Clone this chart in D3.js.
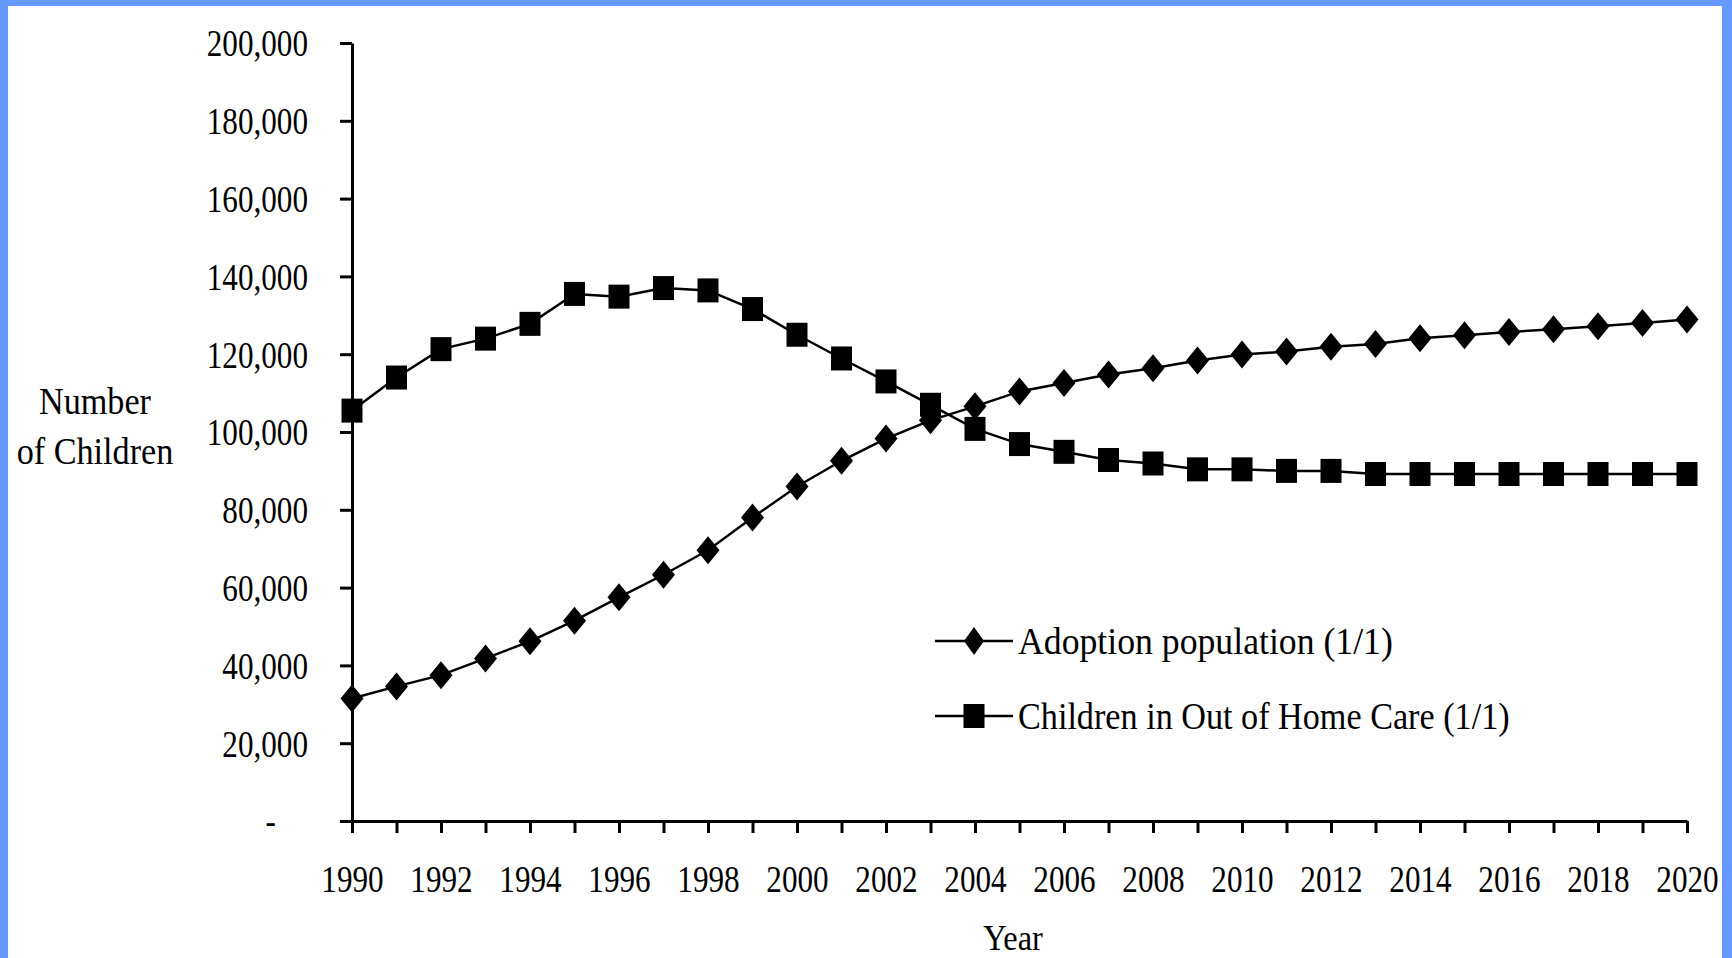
<!DOCTYPE html>
<html>
<head>
<meta charset="utf-8">
<script src="https://cdn.jsdelivr.net/npm/d3@7"></script>
<style>
  html, body { margin: 0; padding: 0; background: #6699ff; }
  svg { display: block; }
  text { font-family: "Liberation Serif", "Times New Roman", serif; fill: #000; }
</style>
</head>
<body>
<svg id="chart" width="1732" height="958"></svg>
<script>
// Years on the x axis
const years = d3.range(1990, 2021);

// Adoption population on 1 January of each year
const adoptionPopulation = [
  31500, 34600, 37500, 41800, 46200, 51500, 57500, 63300, 69600, 78000,
  86000, 92600, 98300, 103000, 106600, 110400, 112600, 114800, 116400, 118400,
  119900, 120700, 121900, 122600, 124100, 124900, 125700, 126400, 127200, 128000,
  128900
];

// Children in out-of-home care on 1 January of each year
const outOfHomeCare = [
  105500, 114000, 121300, 124000, 127800, 135500, 134800, 137000, 136400, 131600,
  125000, 118900, 113000, 107000, 100800, 96900, 94900, 92800, 91900, 90400,
  90400, 90000, 90000, 89200, 89200, 89200, 89200, 89200, 89200, 89200,
  89200
];

// Tick values
const yTicks = [0, 20000, 40000, 60000, 80000, 100000, 120000, 140000, 160000, 180000, 200000];
const xTickLabelYears = d3.range(1990, 2021, 2);

const seriesNames = ["Adoption population (1/1)", "Children in Out of Home Care (1/1)"];

const svg = d3.select("#chart");
const W = 1732, H = 958;

// white panel inside the blue frame
svg.append("rect").attr("x", 0).attr("y", 0).attr("width", W).attr("height", H).attr("fill", "#6699ff");
svg.append("rect").attr("x", 8).attr("y", 6).attr("width", W - 8 - 10).attr("height", H - 6).attr("fill", "#ffffff");

const x = d3.scaleLinear().domain([1990, 2020]).range([352, 1687]);
const y = d3.scaleLinear().domain([0, 200000]).range([821, 43]);

const SX = 0.82;   // horizontal squeeze of the tall serif face
const fmt = d3.format(",");

// y axis
const gy = svg.append("g").attr("transform", `translate(${x.range()[0]},0)`)
  .call(d3.axisLeft(y).tickValues(yTicks).tickSize(12).tickSizeOuter(0)
    .tickFormat(d => d === 0 ? "-" : fmt(d)));
gy.select(".domain").attr("stroke", "#000").attr("stroke-width", 3);
gy.selectAll(".tick line").attr("stroke", "#000").attr("stroke-width", 3);
gy.selectAll(".tick text")
  .attr("font-family", null).attr("font-size", 38)
  .attr("transform", `scale(${SX},1)`)
  .attr("x", d => (d === 0 ? -76 : -44) / SX)
  .attr("dy", "0.34em");

// x axis
const gx = svg.append("g").attr("transform", `translate(0,${y(0)})`)
  .call(d3.axisBottom(x).tickValues(years).tickSize(12).tickSizeOuter(0)
    .tickFormat(d => xTickLabelYears.includes(d) ? String(d) : ""));
gx.select(".domain").attr("stroke", "#000").attr("stroke-width", 3);
gx.selectAll(".tick line").attr("stroke", "#000").attr("stroke-width", 3);
gx.selectAll(".tick text")
  .attr("font-family", null).attr("font-size", 38)
  .attr("transform", `scale(${SX},1)`)
  .attr("y", 71).attr("dy", 0);

// axis titles
function label(txt, tx, ty, anchor, sx, size) {
  svg.append("text").attr("transform", `translate(${tx},${ty}) scale(${sx},1)`)
    .attr("text-anchor", anchor).attr("font-size", size || 38).text(txt);
}
label("Number", 95, 414, "middle", 0.9);
label("of Children", 95, 464, "middle", 0.9);
label("Year", 1013, 950, "middle", 0.9, 36);

// markers
const diamond = (cx, cy, w, h) => `M${cx},${cy - h / 2}L${cx + w / 2},${cy}L${cx},${cy + h / 2}L${cx - w / 2},${cy}Z`;
function drawSquare(g, cx, cy, w, h) {
  g.append("rect").attr("x", cx - w / 2).attr("y", cy - h / 2).attr("width", w).attr("height", h).attr("fill", "#000");
}

const line = d3.line().x(d => x(d[0])).y(d => y(d[1]));

const care = years.map((yr, i) => [yr, outOfHomeCare[i]]);
const adopt = years.map((yr, i) => [yr, adoptionPopulation[i]]);

svg.append("path").datum(care).attr("d", line).attr("fill", "none").attr("stroke", "#000").attr("stroke-width", 2.5);
svg.append("path").datum(adopt).attr("d", line).attr("fill", "none").attr("stroke", "#000").attr("stroke-width", 2.5);

const gm = svg.append("g");
care.forEach(d => drawSquare(gm, x(d[0]), y(d[1]), 21, 24));
adopt.forEach(d => gm.append("path").attr("d", diamond(x(d[0]), y(d[1]), 23, 28)).attr("fill", "#000"));

// legend
const legend = svg.append("g");
const legendRows = [641, 716];
const legendSquash = [0.94, 0.9];
legendRows.forEach((cy, i) => {
  legend.append("line").attr("x1", 935).attr("x2", 1013).attr("y1", cy).attr("y2", cy)
    .attr("stroke", "#000").attr("stroke-width", 2.5);
  if (i === 0) legend.append("path").attr("d", diamond(974, cy, 20, 28)).attr("fill", "#000");
  else drawSquare(legend, 974, cy, 21, 24);
  legend.append("text").attr("transform", `translate(1018,${cy + 13}) scale(${legendSquash[i]},1)`)
    .attr("font-size", 38).text(seriesNames[i]);
});
</script>
</body>
</html>
